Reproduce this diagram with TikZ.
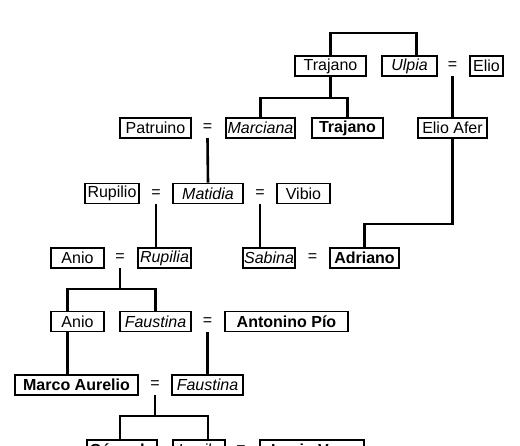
\documentclass[tikz,border=0pt]{standalone}
\usepackage{fontspec}
\setmainfont{Liberation Sans}
\usepackage{tikz}

\newcommand{\persfont}{\fontsize{16}{19}\selectfont}

\begin{document}
\begin{tikzpicture}[
  x=1pt, y=-1pt,
  pers/.style={draw, line width=1.6pt, minimum height=20pt,
               inner sep=0pt, font=\persfont},
  emp/.style={pers, font=\persfont\bfseries},
  fem/.style={pers, font=\persfont\itshape},
  eqsign/.style={minimum height=20pt, inner sep=0pt, font=\persfont},
  link/.style={line width=2.6pt}
]
\useasboundingbox (0,0) rectangle (520,445);
\clip (0,0) rectangle (520,445);

% generation 1
\node[pers,minimum width=71pt] (trajanoA) at (330.5,66) {Trajano};
\node[fem,minimum width=55pt]  (ulpia)    at (409.5,66) {Ulpia};
\node[eqsign]                  (eqB)      at (452.5,66) {=};
\node[pers,minimum width=33pt] (elio)     at (486.5,66) {Elio};
% generation 2
\node[pers,minimum width=71pt] (patruino) at (155.5,128) {Patruino};
\node[eqsign]                  (eqC)      at (207.5,128) {=};
\node[fem,minimum width=69pt]  (marciana) at (260.5,128) {Marciana};
\node[emp,minimum width=71pt]  (trajanoB) at (347.5,128) {Trajano};
\node[pers,minimum width=69pt] (elioafer) at (452.5,128) {Elio Afer};
% generation 3
\node[pers,minimum width=54pt] (rupilio)  at (112,193.5) {Rupilio};
\node[eqsign]                  (eqD)      at (156,193.5) {=};
\node[fem,minimum width=70pt]  (matidia)  at (208,193.5) {Matidia};
\node[eqsign]                  (eqE)      at (260,193.5) {=};
\node[pers,minimum width=53pt] (vibio)    at (303.5,193.5) {Vibio};
% generation 4
\node[pers,minimum width=53pt] (anioA)    at (77.5,258) {Anio};
\node[eqsign]                  (eqF)      at (120,258) {=};
\node[fem,minimum width=53pt]  (rupilia)  at (164.5,258) {Rupilia};
\node[fem,minimum width=52pt]  (sabina)   at (269,258) {Sabina};
\node[eqsign]                  (eqJ)      at (312.5,258) {=};
\node[emp,minimum width=69pt]  (adriano)  at (364.5,258) {Adriano};
% generation 5
\node[pers,minimum width=53pt] (anioB)    at (77.5,321.5) {Anio};
\node[fem,minimum width=71pt]  (faustinaA) at (155.5,321.5) {Faustina};
\node[eqsign]                  (eqG)      at (207.5,321.5) {=};
\node[emp,minimum width=123pt] (antonino) at (286.5,321.5) {Antonino Pío};
% generation 6
\node[emp,minimum width=123pt] (marco)    at (76.5,385) {Marco Aurelio};
\node[eqsign]                  (eqH)      at (155,385) {=};
\node[fem,minimum width=71pt]  (faustinaB) at (207.5,385) {Faustina};
% generation 7
\node[emp,minimum width=70pt]  (comodo)   at (122,450) {Cómodo};
\node[fem,minimum width=52pt]  (lucila)   at (199,450) {Lucila};
\node[eqsign]                  (eqI)      at (241,450) {=};
\node[emp,minimum width=104pt] (lucio)    at (312,450) {Lucio Vero};

% junctions
\coordinate (jTop) at (374,33);
\coordinate (jA) at (330.5,98);
\coordinate (jB) at (452.5,224);
\coordinate (jF) at (120,289);
\coordinate (jH) at (155,416);

% connectors
\draw[link] (trajanoA.north) |- (jTop) -| ([xshift=7pt]ulpia.north);
\draw[link] (trajanoA.south) -- (jA);
\draw[link] (marciana.north) |- (jA) -| (trajanoB.north);
\draw[link] (eqB.south) -- (elioafer.north);
\draw[link] (eqC.south) -- (matidia.north);
\draw[link] (elioafer.south) -- (jB) -| (adriano.north);
\draw[link] (eqD.south) -- (eqD.south |- rupilia.north);
\draw[link] (eqE.south) -- (eqE.south |- sabina.north);
\draw[link] (eqF.south) -- (jF);
\draw[link] ([xshift=-10pt]anioB.north) |- (jF) -| (faustinaA.north);
\draw[link] (eqG.south) -- (faustinaB.north);
\draw[link] ([xshift=-10pt]anioB.south) -- ([xshift=-10pt]anioB.south |- marco.north);
\draw[link] (eqH.south) -- (jH);
\draw[link] ([xshift=-2pt]comodo.north) |- (jH) -| ([xshift=9pt]lucila.north);
\end{tikzpicture}
\end{document}
